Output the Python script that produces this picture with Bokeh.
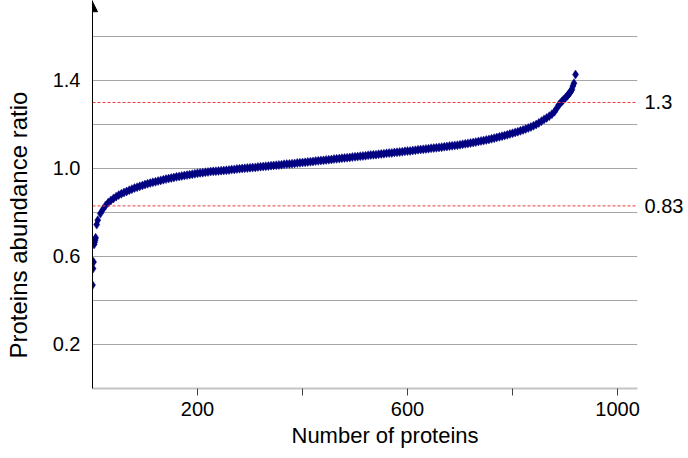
from bokeh.plotting import figure
from bokeh.models import (Range1d, FixedTicker, Span, Arrow, NormalHead,
                          PrintfTickFormatter, LinearAxis, Title)
from bokeh.embed import file_html
from bokeh.resources import INLINE

# ---- data ----
protein_rank = ([0, 1, 2, 3, 4, 5, 6, 8]
                + list(range(10, 885, 5))
                + [884, 888, 891, 894, 897, 901, 904, 906, 908, 910, 912, 913, 915, 917, 920])

abundance_ratio = [
    0.470, 0.545, 0.575, 0.655, 0.665, 0.675, 0.685, 0.745,
    0.765, 0.795, 0.815, 0.832, 0.845, 0.855, 0.864, 0.872, 0.879, 0.885,
    0.891, 0.896, 0.901, 0.906, 0.911, 0.915, 0.919, 0.923, 0.927, 0.931,
    0.934, 0.937, 0.940, 0.943, 0.946, 0.949, 0.952, 0.954, 0.957, 0.959,
    0.962, 0.964, 0.966, 0.968, 0.970, 0.972, 0.974, 0.976, 0.978, 0.980,
    0.981, 0.983, 0.984, 0.986, 0.987, 0.988, 0.989, 0.990, 0.991, 0.992,
    0.993, 0.995, 0.996, 0.998, 0.999, 1.000, 1.001, 1.002, 1.003, 1.004,
    1.005, 1.007, 1.008, 1.009, 1.010, 1.011, 1.013, 1.014, 1.015, 1.016,
    1.017, 1.019, 1.020, 1.021, 1.022, 1.023, 1.025, 1.026, 1.027, 1.028,
    1.030, 1.031, 1.032, 1.034, 1.035, 1.036, 1.037, 1.039, 1.040, 1.041,
    1.043, 1.044, 1.045, 1.047, 1.048, 1.049, 1.050, 1.052, 1.053, 1.054,
    1.056, 1.057, 1.058, 1.060, 1.061, 1.062, 1.063, 1.065, 1.066, 1.067,
    1.069, 1.070, 1.071, 1.073, 1.074, 1.075, 1.076, 1.078, 1.079, 1.080,
    1.082, 1.083, 1.085, 1.086, 1.087, 1.089, 1.090, 1.092, 1.093, 1.094,
    1.096, 1.097, 1.099, 1.100, 1.102, 1.103, 1.105, 1.106, 1.108, 1.110,
    1.112, 1.114, 1.116, 1.118, 1.120, 1.123, 1.125, 1.127, 1.130, 1.132,
    1.135, 1.138, 1.141, 1.144, 1.147, 1.150, 1.153, 1.157, 1.160, 1.164,
    1.167, 1.171, 1.175, 1.180, 1.184, 1.189, 1.194, 1.200, 1.207, 1.215,
    1.223, 1.230, 1.238, 1.247, 1.258,
    1.273, 1.289, 1.297, 1.305, 1.312, 1.322, 1.330, 1.335, 1.341, 1.347,
    1.355, 1.360, 1.375, 1.388, 1.427,
]

x_ticks = [200, 400, 600, 800, 1000]
x_tick_labels = {200: "200", 400: "", 600: "600", 800: "", 1000: "1000"}
y_grid_values = [0.2, 0.4, 0.6, 0.8, 1.0, 1.2, 1.4, 1.6]
y_tick_values = [0.2, 0.6, 1.0, 1.4]
thresholds = [1.3, 0.83]
threshold_labels = {1.3: "1.3", 0.83: "0.83"}
x_title = "Number of proteins"
y_title = "Proteins abundance ratio"

FONT = "Liberation Sans"

p = figure(width=688, height=458, output_backend="svg", toolbar_location=None,
           x_range=Range1d(0, 1038), y_range=Range1d(0, 1.7636),
           min_border_left=92, min_border_right=51, min_border_top=0,
           min_border_bottom=70)
p.outline_line_color = None
p.background_fill_color = "white"

# x axis
p.xaxis.ticker = FixedTicker(ticks=x_ticks)
p.xaxis.major_label_overrides = x_tick_labels
p.xaxis.axis_line_color = "#C4C4C4"
p.xaxis.axis_line_width = 2
p.xaxis.major_tick_line_color = "#404040"
p.xaxis.major_tick_out = 7
p.xaxis.major_tick_in = 0
p.xaxis.minor_tick_line_color = None
p.xaxis.major_label_standoff = 6
p.xaxis.major_label_text_font = FONT
p.xaxis.major_label_text_font_size = "20px"
p.xaxis.major_label_text_color = "black"
p.xgrid.visible = False

# y axis
p.yaxis.ticker = FixedTicker(ticks=y_tick_values)
p.yaxis.formatter = PrintfTickFormatter(format="%.1f")
p.yaxis.axis_line_color = "black"
p.yaxis.major_tick_out = 0
p.yaxis.major_tick_in = 0
p.yaxis.minor_tick_line_color = None
p.yaxis.major_label_standoff = 12
p.yaxis.major_label_text_font = FONT
p.yaxis.major_label_text_font_size = "20px"
p.yaxis.major_label_text_color = "black"
p.ygrid.ticker = FixedTicker(ticks=y_grid_values)
p.ygrid.grid_line_color = "#A6A6A6"
p.ygrid.grid_line_width = 1

# empty gap between the y tick labels and the y title
gap_axis = LinearAxis(ticker=FixedTicker(ticks=[1.0]),
                      major_label_overrides={1.0: ""})
gap_axis.axis_line_color = None
gap_axis.major_tick_line_color = None
gap_axis.minor_tick_line_color = None
gap_axis.major_tick_out = 17
gap_axis.major_tick_in = 0
gap_axis.minor_tick_out = 0
gap_axis.major_label_standoff = 0
p.add_layout(gap_axis, "left")

# axis titles
p.add_layout(Title(text=y_title, align="left", offset=30, standoff=2,
                   text_font=FONT, text_font_size="24px",
                   text_font_style="normal", text_color="black"), "left")
p.add_layout(Title(text=x_title, align="left", offset=199, standoff=4,
                   text_font=FONT, text_font_size="22px",
                   text_font_style="normal", text_color="black"), "below")

# threshold labels on the right
thr_axis = LinearAxis(ticker=FixedTicker(ticks=thresholds),
                      major_label_overrides=threshold_labels)
thr_axis.axis_line_color = None
thr_axis.major_tick_line_color = None
thr_axis.minor_tick_line_color = None
thr_axis.major_label_standoff = 1
thr_axis.major_label_text_font = FONT
thr_axis.major_label_text_font_size = "20px"
thr_axis.major_label_text_color = "black"
p.add_layout(thr_axis, "right")

# arrow on y axis
p.add_layout(Arrow(end=NormalHead(size=10, fill_color="black", line_color="black"),
                   x_start=0, y_start=1.55, x_end=0, y_end=1.758,
                   line_color="black", line_width=1))

# threshold lines
for t in thresholds:
    p.add_layout(Span(location=t, dimension="width", line_color="#F03C3C",
                      line_dash="3 2", line_width=1))

# data
p.scatter(protein_rank, abundance_ratio, marker="diamond", size=9,
          fill_color="#000080", line_color="#000080", line_width=0.5)

open("out.html", "w").write(file_html(p, INLINE))
